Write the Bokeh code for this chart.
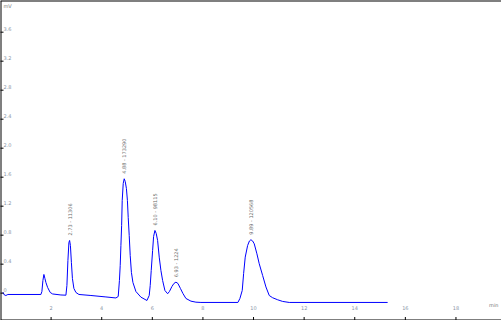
import math
from bokeh.plotting import figure
from bokeh.models import Range1d, Span
from bokeh.core.properties import value
from bokeh.embed import file_html
from bokeh.resources import INLINE

# ---- data (time in min, signal in mV) ----
time_min = [0.095, 0.154, 0.213, 0.292, 1.597, 1.636, 1.676, 1.715, 1.755, 1.794,
            1.862, 1.964, 2.059, 2.387, 2.585, 2.625, 2.664, 2.704, 2.731, 2.763,
            2.802, 2.842, 2.901, 2.980, 3.099, 3.573, 4.166, 4.561, 4.652, 4.700,
            4.731, 4.759, 4.787, 4.810, 4.850, 4.889, 4.929, 4.976, 5.016, 5.047,
            5.087, 5.126, 5.174, 5.233, 5.352, 5.549, 5.787, 5.877, 5.917, 5.957,
            6.012, 6.051, 6.103, 6.154, 6.209, 6.273, 6.340, 6.407, 6.498, 6.605,
            6.676, 6.775, 6.854, 6.933, 7.012, 7.111, 7.209, 7.328, 7.526, 7.723,
            7.921, 9.383, 9.462, 9.553, 9.609, 9.672, 9.767, 9.838, 9.897, 9.964,
            10.028, 10.134, 10.225, 10.360, 10.490, 10.621, 10.755, 10.953, 11.150, 11.411,
            15.300]
signal_mv = [0.014, -0.025, -0.032, -0.018, -0.018, 0.023, 0.175, 0.258, 0.203, 0.148,
             0.079, 0.010, -0.011, -0.025, -0.028, 0.106, 0.451, 0.699, 0.727, 0.658,
             0.423, 0.203, 0.065, 0.010, -0.018, -0.032, -0.052, -0.066, -0.046, 0.175,
             0.382, 0.658, 0.934, 1.279, 1.513, 1.578, 1.541, 1.444, 1.279, 1.044,
             0.796, 0.520, 0.286, 0.148, 0.023, -0.055, -0.101, -0.032, 0.106, 0.313,
             0.589, 0.782, 0.865, 0.824, 0.727, 0.497, 0.313, 0.175, 0.037, -0.008,
             0.023, 0.092, 0.134, 0.152, 0.134, 0.065, -0.004, -0.073, -0.110, -0.124,
             -0.128, -0.128, -0.073, 0.037, 0.272, 0.497, 0.658, 0.720, 0.737, 0.720,
             0.681, 0.543, 0.406, 0.244, 0.086, -0.032, -0.063, -0.091, -0.114, -0.128,
             -0.128]

peak_times = [2.731, 4.889, 6.103, 6.933, 9.897]
peak_heights = [0.727, 1.578, 0.865, 0.152, 0.737]
peak_labels = ["2.73 - 11306", "4.88 - 173290", "6.10 - 98115", "6.93 - 1224", "9.89 - 120568"]

x_ticks = [2, 4, 6, 8, 10, 12, 14, 16, 18]
x_tick_labels = ["2", "4", "6", "8", "10", "12", "14", "16", "18"]
y_ticks = [0.0, 0.4, 0.8, 1.2, 1.6, 2.0, 2.4, 2.8, 3.2, 3.6]
y_tick_labels = ["0", "0.4", "0.8", "1.2", "1.6", "2.0", "2.4", "2.8", "3.2", "3.6"]

X0, X1 = 0.0, 19.8
Y0, Y1 = -0.377, 4.037

p = figure(width=501, height=320, output_backend="svg", toolbar_location=None,
           x_axis_location=None, y_axis_location=None,
           x_range=Range1d(X0, X1), y_range=Range1d(Y0, Y1),
           min_border=0, outline_line_color=None, background_fill_color="white",
           border_fill_color="white")
p.grid.visible = False

# frame lines (left, top, bottom)
p.add_layout(Span(location=X0, dimension="height", line_color="black", line_width=2))
p.add_layout(Span(location=Y1, dimension="width", line_color="black", line_width=2))
p.add_layout(Span(location=Y0, dimension="width", line_color="black", line_width=2))

# trace
p.line(time_min, signal_mv, line_color="#0000ff", line_width=1.0)

# tick marks (inward, clipped by the frame)
p.scatter([X0] * len(y_ticks), y_ticks, marker="dash", size=6, line_color="black", line_width=1)
p.scatter(x_ticks, [Y0] * len(x_ticks), marker="dash", angle=math.pi / 2, size=7,
          line_color="black", line_width=1)

font = value("DejaVu Sans")
lab_col = "#8a96a8"
p.text([X0] * len(y_ticks), y_ticks, text=y_tick_labels, x_offset=3, y_offset=-1,
       text_font=font, text_font_size="5px", text_color=lab_col,
       text_align="left", text_baseline="bottom")
p.text(x_ticks, [Y0] * len(x_ticks), text=x_tick_labels, y_offset=-13,
       text_font=font, text_font_size="5px", text_color=lab_col,
       text_align="center", text_baseline="middle")
p.text([X0], [Y1], text=["mV"], x_offset=3, y_offset=2, text_font=font,
       text_font_size="5px", text_color="#777777", text_align="left", text_baseline="top")
p.text([X1], [Y0], text=["min"], x_offset=-3, y_offset=-16, text_font=font,
       text_font_size="5px", text_color="#777777", text_align="right", text_baseline="middle")

# peak annotations (vertical)
p.text(peak_times, peak_heights, text=peak_labels, angle=math.pi / 2, y_offset=-5,
       text_font=font, text_font_size="5px", text_color="#6a6a6a",
       text_align="left", text_baseline="middle")

open("out.html", "w").write(file_html(p, INLINE))
